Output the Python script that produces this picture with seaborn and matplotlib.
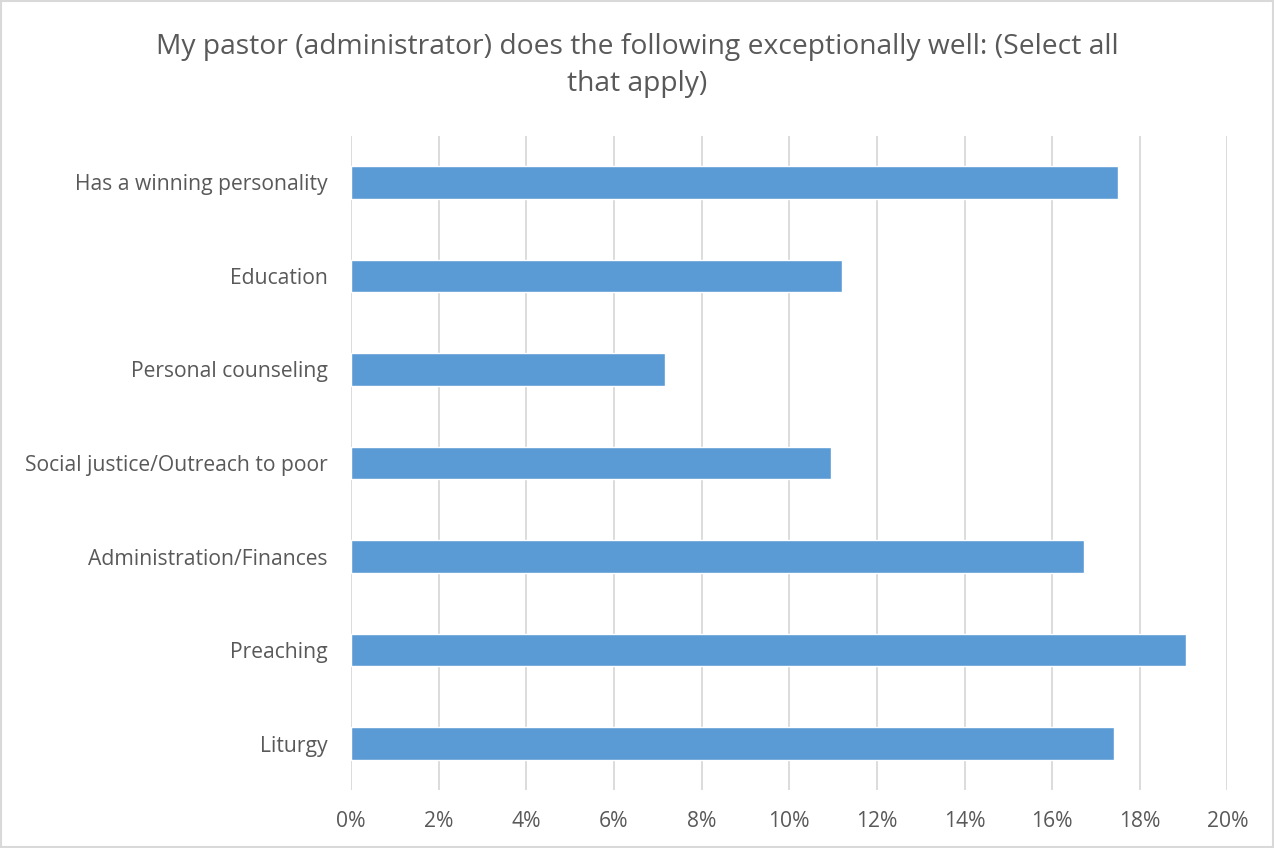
import matplotlib.pyplot as plt
import matplotlib.patches as patches
import pandas as pd
import seaborn as sns
from matplotlib.ticker import FuncFormatter

categories = [
    "Has a winning personality",
    "Education",
    "Personal counseling",
    "Social justice/Outreach to poor",
    "Administration/Finances",
    "Preaching",
    "Liturgy",
]
shares = [17.5, 11.2, 7.17, 10.95, 16.73, 19.05, 17.41]

title = "My pastor (administrator) does the following exceptionally well: (Select all\nthat apply)"

df = pd.DataFrame({"category": categories, "share": shares})

sns.set_theme(style="white")
plt.rcParams["font.family"] = ["Open Sans", "DejaVu Sans"]
text_color = "#595959"
grid_color = "#d9d9d9"

fig = plt.figure(figsize=(12.74, 8.48), dpi=100)
ax = fig.add_axes([0.2755, 0.068, 0.688, 0.772])

sns.barplot(data=df, x="share", y="category", color="#5B9BD5", width=0.35,
            saturation=1, ax=ax, orient="h")

ax.set_xlim(0, 20)
ax.set_xticks(range(0, 21, 2))
ax.xaxis.set_major_formatter(FuncFormatter(lambda v, p: f"{v:.0f}%"))
ax.grid(axis="x", color=grid_color, linewidth=1.3)
ax.set_axisbelow(True)
for s in ax.spines.values():
    s.set_visible(False)
ax.set_xlabel("")
ax.set_ylabel("")
ax.tick_params(axis="both", length=0, labelsize=15.2, colors=text_color)
ax.tick_params(axis="y", pad=17)
ax.tick_params(axis="x", pad=15)

fig.text(0.5, 0.923, title, ha="center", va="center", fontsize=20.3,
         color=text_color, linespacing=1.45)

fig.patches.append(patches.Rectangle((0.001, 0.001), 0.998, 0.998, transform=fig.transFigure,
                                     fill=False, edgecolor=grid_color, linewidth=1.5))

fig.savefig("out.png", dpi=100)
